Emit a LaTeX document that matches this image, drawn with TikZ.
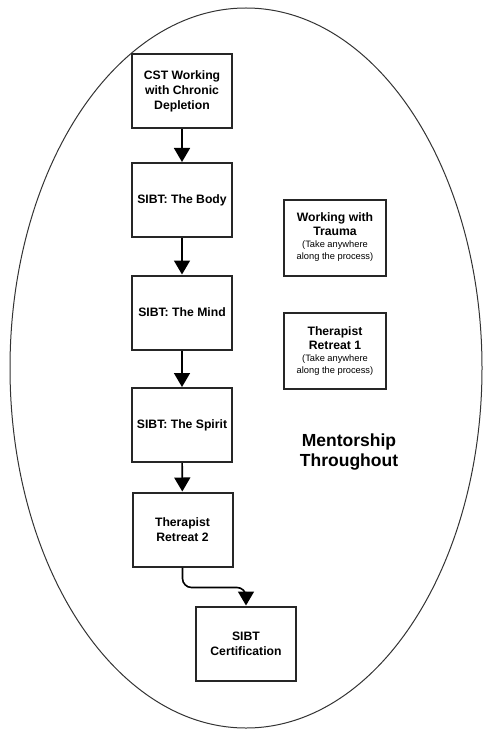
\documentclass[tikz,border=0pt]{standalone}
\usepackage{fontspec}
\setmainfont{Liberation Sans}
\usetikzlibrary{positioning,arrows.meta}

\begin{document}
\begin{tikzpicture}[x=1pt,y=-1pt,box/.style={draw=black!85,line width=2pt,align=center,minimum width=100pt,minimum height=74pt,font=\bfseries\fontsize{12.2}{15}\selectfont},line/.style={-{Triangle[width=16pt,length=14pt]},line width=1.6pt}]
\useasboundingbox (0,0) rectangle (500,746);
\draw[line width=1pt,black!80] (246,368) ellipse [x radius=236,y radius=360];
\node[box] (cst) at (182,91.5) {CST Working\\with Chronic\\Depletion};
\node[box] (body) at (182,200) {SIBT: The Body};
\node[box] (mind) at (182,312.5) {SIBT: The Mind};
\node[box] (spirit) at (182,425) {SIBT: The Spirit};
\node[box] (r2) at (182.5,529.5) {Therapist\\Retreat 2};
\node[box] (cert) at (246,643.5) {SIBT\\Certification};
\node[box,minimum width=102pt,minimum height=76pt,font=\bfseries\fontsize{12.2}{14}\selectfont] (trauma) at (335,237.5) {Working with\\Trauma\\[-2pt]{\mdseries\fontsize{9.3}{11}\selectfont(Take anywhere}\\[-2pt]{\mdseries\fontsize{9.3}{11}\selectfont along the process)}};
\node[box,minimum width=102pt,minimum height=76pt,font=\bfseries\fontsize{12.2}{14}\selectfont] (r1) at (335,351) {Therapist\\Retreat 1\\[-2pt]{\mdseries\fontsize{9.3}{11}\selectfont(Take anywhere}\\[-2pt]{\mdseries\fontsize{9.3}{11}\selectfont along the process)}};
\node[align=center,font=\bfseries\fontsize{17.5}{20}\selectfont] (ment) at (349,452) {Mentorship\\Throughout};
\draw[line] (cst)--(body);\draw[line] (body)--(mind);\draw[line] (mind)--(spirit);\draw[line] (spirit)--(r2);
\draw[line,rounded corners=9pt] (r2.south) -- ++(0,20) -| (cert.north);
\end{tikzpicture}
\end{document}
